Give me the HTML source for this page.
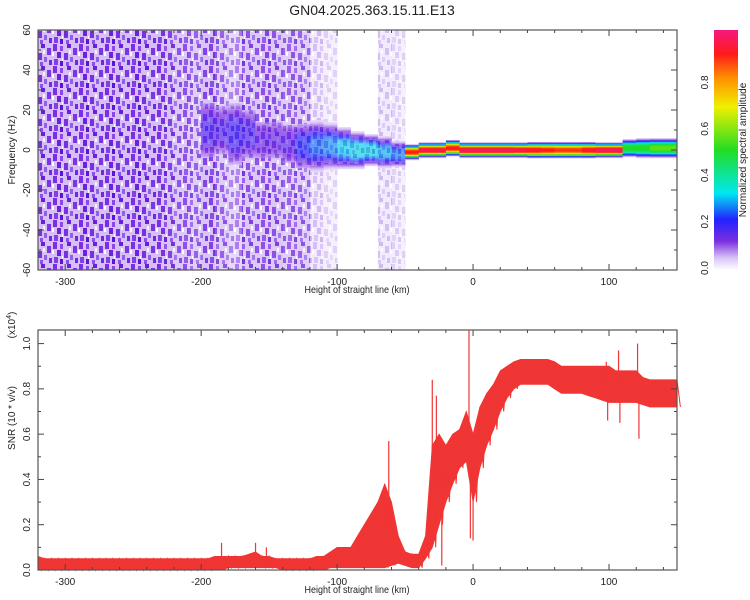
<!DOCTYPE html>
<html><head><meta charset="utf-8">
<style>
body{margin:0;background:#fff;}
svg{display:block;font-family:"Liberation Sans",sans-serif;}
</style></head>
<body>
<svg id="chart" width="750" height="600" viewBox="0 0 750 600">
<defs>
<pattern id="noisePat" width="26" height="22" patternUnits="userSpaceOnUse">
<rect width="26" height="22" fill="#d6bff5"/>
<rect x="1" y="0" width="4" height="7" fill="#7a30e2"/>
<rect x="8" y="2" width="3" height="5" fill="#8a48e8"/>
<rect x="15" y="0" width="4" height="4" fill="#6a1fdc"/>
<rect x="21" y="4" width="4" height="7" fill="#7a36e4"/>
<rect x="5" y="8" width="4" height="6" fill="#6c22dc"/>
<rect x="12" y="9" width="4" height="7" fill="#7a30e2"/>
<rect x="18" y="13" width="3" height="5" fill="#9060ec"/>
<rect x="2" y="15" width="4" height="6" fill="#8040e6"/>
<rect x="8" y="17" width="3" height="5" fill="#5e14d6"/>
<rect x="23" y="16" width="3" height="5" fill="#7028e0"/>
<rect x="14" y="18" width="3" height="4" fill="#8a50ea"/>
<rect x="0" y="8" width="2" height="4" fill="#ffffff"/>
<rect x="17" y="6" width="2" height="4" fill="#f6f0fd"/>
<rect x="10" y="14" width="1" height="3" fill="#ffffff"/>
</pattern>
<linearGradient id="cbar" x1="0" y1="1" x2="0" y2="0">
<stop offset="0" stop-color="#ffffff"/>
<stop offset="0.05" stop-color="#d9c4f6"/>
<stop offset="0.12" stop-color="#7b2fe0"/>
<stop offset="0.21" stop-color="#2222ff"/>
<stop offset="0.32" stop-color="#00e8f0"/>
<stop offset="0.5" stop-color="#22dd22"/>
<stop offset="0.68" stop-color="#f0f000"/>
<stop offset="0.8" stop-color="#ff9000"/>
<stop offset="0.9" stop-color="#ff1a1a"/>
<stop offset="1" stop-color="#f5197f"/>
</linearGradient>
</defs>
<text x="372" y="15" font-size="14" text-anchor="middle" fill="#222">GN04.2025.363.15.11.E13</text>
<g id="topGroup"></g>
<g id="bottomGroup"></g>
<g id="cbGroup"></g>
</svg>
<script>
// ---------- data ----------
const binStart = [-320,-310,-300,-290,-280,-270,-260,-250,-240,-230,-220,-210,-200,-190,-180,-170,-160,-150,-140,-130,-120,-110,-100,-90,-80,-70,-60,-50,-40,-30,-20,-10,0,10,20,30,40,50,60,70,80,90,100,110,120,130,140];
const noiseLevel = [0.13,0.13,0.13,0.13,0.13,0.13,0.13,0.13,0.13,0.12,0.11,0.1,0.12,0.1,0.08,0.11,0.11,0.11,0.1,0.1,0.04,0.03,0,0,0,0.04,0.03,0,0,0,0,0,0,0,0,0,0,0,0,0,0,0,0,0,0,0,0];
const bandPeak = [0,0,0,0,0,0,0,0,0,0,0,0,0.17,0.16,0.19,0.17,0.14,0.14,0.15,0.22,0.26,0.28,0.32,0.34,0.34,0.3,0.27,0.9,0.95,0.95,0.9,0.97,0.97,0.97,0.97,0.95,0.92,0.9,0.88,0.88,0.92,0.97,0.97,0.5,0.5,0.55,0.55];
const bandCenter = [0,0,0,0,0,0,0,0,0,0,0,0,10,10,8,8,5,5,3,2,2,2,1,0,0,-1,-2,-1,0,0,1,0,0,0,0,0,0,0,0,0,0,0,0,1,1,1,1];
const bandWidth = [5,5,5,5,5,5,5,5,5,5,5,5,14,12,14,12,10,10,10,10,10,9,8,7,6,6,5,2.6,2.6,2.6,2.8,2.6,2.6,2.6,2.6,2.6,2.8,2.8,2.8,2.8,2.8,2.6,2.6,3.2,3.5,3.5,3.5];
const freqTicks = [-60,-40,-20,0,20,40,60];
const heightTicks = [-300,-200,-100,0,100];
const snrX = [-320,-315,-310,-305,-300,-295,-290,-285,-280,-275,-270,-265,-260,-255,-250,-245,-240,-235,-230,-225,-220,-215,-210,-205,-200,-195,-190,-185,-180,-175,-170,-165,-160,-155,-150,-145,-140,-135,-130,-125,-120,-115,-110,-105,-100,-95,-90,-85,-80,-75,-70,-65,-60,-55,-50,-45,-40,-35,-30,-25,-20,-15,-10,-5,0,5,10,15,20,25,30,35,40,45,50,55,60,65,70,75,80,85,90,95,100,105,110,115,120,125,130,135,140,145,150];
const snrUpper = [0.06,0.05,0.05,0.05,0.05,0.05,0.05,0.05,0.05,0.05,0.05,0.05,0.05,0.05,0.05,0.05,0.05,0.05,0.05,0.05,0.05,0.05,0.05,0.05,0.05,0.05,0.06,0.06,0.06,0.06,0.06,0.07,0.08,0.06,0.06,0.05,0.05,0.05,0.05,0.05,0.05,0.06,0.06,0.08,0.1,0.1,0.1,0.15,0.2,0.25,0.3,0.38,0.3,0.15,0.08,0.07,0.07,0.15,0.55,0.6,0.55,0.6,0.62,0.7,0.6,0.72,0.78,0.82,0.88,0.9,0.92,0.93,0.93,0.93,0.93,0.93,0.92,0.9,0.9,0.9,0.9,0.9,0.9,0.9,0.9,0.88,0.88,0.88,0.88,0.85,0.84,0.84,0.84,0.84,0.84];
const snrLower = [0.0,0.0,0.0,0.0,0.0,0.0,0.0,0.0,0.0,0.0,0.0,0.0,0.0,0.0,0.0,0.0,0.0,0.0,0.0,0.0,0.0,0.0,0.0,0.0,0.0,0.0,0.0,0.0,0.01,0.01,0.01,0.01,0.01,0.01,0.01,0.01,0.0,0.0,0.0,0.0,0.0,0.0,0.0,0.01,0.01,0.01,0.01,0.01,0.01,0.01,0.01,0.01,0.02,0.03,0.02,0.01,0.01,0.05,0.1,0.2,0.3,0.38,0.45,0.48,0.3,0.45,0.55,0.62,0.7,0.76,0.8,0.82,0.82,0.82,0.82,0.82,0.8,0.78,0.78,0.78,0.78,0.77,0.76,0.75,0.74,0.74,0.74,0.74,0.74,0.73,0.72,0.72,0.72,0.72,0.72];
const spikeX = [-185,-160,-152,-62,-30,-27,-23,-3,-2,0,98,99,107,108,121,122];
const spikeY = [0.12,0.12,0.1,0.57,0.84,0.77,0.02,1.06,0.14,0.13,0.92,0.66,0.97,0.65,1.0,0.58];
const snrTicks = [0.0,0.2,0.4,0.6,0.8,1.0];
const cbTicks = [0.0,0.2,0.4,0.6,0.8];

// ---------- helpers ----------
const NS='http://www.w3.org/2000/svg';
function mk(tag, attrs, parent){const e=document.createElementNS(NS,tag);for(const k in attrs)e.setAttribute(k,attrs[k]);parent.appendChild(e);return e;}
const X0=38,X1=677;
const xs = h => X0 + (h+320)/470*(X1-X0);
const yTop = f => 30 + (60-f)/120*240;
const yBot = v => 570 - v/1.06*240;
const cmapStops=[[0,[255,255,255]],[0.05,[217,196,246]],[0.12,[123,47,224]],[0.21,[34,34,255]],[0.32,[0,232,240]],[0.5,[34,221,34]],[0.68,[240,240,0]],[0.8,[255,144,0]],[0.9,[255,26,26]],[1,[245,25,127]]];
function cmap(v){v=Math.max(0,Math.min(1,v));for(let i=1;i<cmapStops.length;i++){if(v<=cmapStops[i][0]){const a=cmapStops[i-1],b=cmapStops[i];const t=(v-a[0])/(b[0]-a[0]);const c=a[1].map((x,j)=>Math.round(x+(b[1][j]-x)*t));return `rgb(${c[0]},${c[1]},${c[2]})`;}}return 'rgb(245,25,127)';}

function drawFrame(g, y0, y1, yTicksMajor, yMinorStep, yScale, yLo, yHi, name){
  for(let h=-320;h<=150;h+=20){
    const major = h%100===0;
    const len = major?6:3;
    const x=xs(h);
    const t1=mk('line',{x1:x,x2:x,y1:y1,y2:y1-len,stroke:'#444','stroke-width':1},g);
    
    
    const t2=mk('line',{x1:x,x2:x,y1:y0,y2:y0+len,stroke:'#444','stroke-width':1},g);
    
    
  }
  for(let v=yLo; v<=yHi+1e-9; v+=yMinorStep){
    const y=yScale(v);
    const major = yTicksMajor.some(t=>Math.abs(t-v)<1e-6);
    const len = major?6:3;
    const a=mk('line',{x1:X0,x2:X0+len,y1:y,y2:y,stroke:'#444','stroke-width':1},g);
    
    
    const b=mk('line',{x1:X1,x2:X1-len,y1:y,y2:y,stroke:'#444','stroke-width':1},g);
    
    
  }
  const r=mk('rect',{x:X0,y:y0,width:X1-X0,height:y1-y0,fill:'none',stroke:'#555','stroke-width':1.2},g);
  
  
  heightTicks.forEach(h=>{
    const t=mk('text',{x:xs(h),y:y1+15,'font-size':10,'text-anchor':'middle',fill:'#222'},g);
    t.textContent=String(h);
    
    
  });
  const xl=mk('text',{x:357,y:y1+23,'font-size':10,'text-anchor':'middle',fill:'#222',transform:`translate(357 ${y1+23}) scale(0.9 1) translate(-357 ${-(y1+23)})`},g);
  xl.textContent='Height of straight line (km)';
  
  
}

// ---------- top spectrogram ----------
const topG=document.getElementById('topGroup');
const hm=mk('g',{},topG);


const rowStep=0.5;
binStart.forEach((h,i)=>{
  const x=xs(h), w=xs(h+10)-x;
  if(noiseLevel[i]>0){
    const n=mk('rect',{x:x,y:30,width:w+0.3,height:240,fill:'url(#noisePat)',opacity:Math.min(1,noiseLevel[i]/0.13)},hm);
    
    
  }
  if(bandPeak[i]>0){
    const broad = bandPeak[i]<0.5;
    for(let f=-60; f<60; f+=rowStep){
      const d=(f+rowStep/2-bandCenter[i])/bandWidth[i];
      const v=bandPeak[i]*Math.exp(-Math.pow(Math.abs(d),3));
      if(v<0.03 || v<noiseLevel[i]*0.6) continue;
      const c=mk('rect',{x:x,y:yTop(f+rowStep),width:w+0.3,height:yTop(f)-yTop(f+rowStep)+0.2,fill:cmap(v),opacity:broad?0.85:1},hm);
      
      
    }
    if(broad){
      const top2=yTop(bandCenter[i]+bandWidth[i]), bot2=yTop(bandCenter[i]-bandWidth[i]);
      const o=mk('rect',{x:x,y:top2,width:w+0.3,height:bot2-top2,fill:'url(#noisePat)',opacity:0.3},hm);
      
      
    }
  }
});
drawFrame(topG,30,270,freqTicks,10,yTop,-60,60,'spectrogram');
freqTicks.forEach(f=>{
  const y=yTop(f);
  const t=mk('text',{x:0,y:0,'font-size':10,'text-anchor':'middle',fill:'#222',transform:`translate(30 ${y}) rotate(-90)`},topG);
  t.textContent=String(f);
  
  
});
const yl=mk('text',{x:0,y:0,'font-size':10,'text-anchor':'middle',fill:'#222',transform:'translate(15 150) rotate(-90)'},topG);
yl.textContent='Frequency (Hz)';



// ---------- colorbar ----------
const cbG=document.getElementById('cbGroup');
const cbr=mk('rect',{x:714,y:30,width:24,height:240,fill:'url(#cbar)'},cbG);


cbTicks.forEach(v=>{
  const y=268 - v/1.0*232;
  const t=mk('text',{x:0,y:0,'font-size':10,'text-anchor':'middle',fill:'#222',transform:`translate(708 ${y}) rotate(-90)`},cbG);
  t.textContent=v.toFixed(1);
  
  
});
const cbl=mk('text',{x:0,y:0,'font-size':10,'text-anchor':'middle',fill:'#222',transform:'translate(746 150) rotate(-90)'},cbG);
cbl.textContent='Normalized spectral amplitude';



// ---------- bottom SNR ----------
const botG=document.getElementById('bottomGroup');
const ser=mk('g',{},botG);


let pts=snrX.map((h,i)=>`${xs(h).toFixed(1)},${yBot(snrUpper[i]).toFixed(1)}`);
for(let i=snrX.length-1;i>=0;i--) pts.push(`${xs(snrX[i]).toFixed(1)},${yBot(snrLower[i]).toFixed(1)}`);
const poly=mk('polygon',{points:pts.join(' '),fill:'#f03535',stroke:'#f03535','stroke-width':0.8},ser);


let zz=[];
snrX.forEach((h,i)=>{zz.push(`${xs(h).toFixed(1)},${yBot(snrUpper[i]).toFixed(1)}`);zz.push(`${(xs(h)+3.4).toFixed(1)},${yBot(snrLower[i]).toFixed(1)}`);});
const zl=mk('polyline',{points:zz.join(' '),fill:'none',stroke:'#f03535','stroke-width':1},ser);


function envMid(h){for(let i=1;i<snrX.length;i++){if(h<=snrX[i]){const t=(h-snrX[i-1])/(snrX[i]-snrX[i-1]);const m0=(snrUpper[i-1]+snrLower[i-1])/2,m1=(snrUpper[i]+snrLower[i])/2;return m0+(m1-m0)*t;}}return 0;}
spikeX.forEach((h,i)=>{
  const s=mk('line',{x1:xs(h),x2:xs(h),y1:yBot(spikeY[i]),y2:yBot(envMid(h)),stroke:'#f03535','stroke-width':1.2},ser);
  
  
});
drawFrame(botG,330,570,snrTicks,0.1,yBot,0,1.0,'snr');
snrTicks.forEach(v=>{
  const t=mk('text',{x:0,y:0,'font-size':10,'text-anchor':'middle',fill:'#222',transform:`translate(30 ${yBot(v)}) rotate(-90)`},botG);
  t.textContent=v.toFixed(1);
  
  
});
const yl2=mk('text',{x:0,y:0,'font-size':10,'text-anchor':'middle',fill:'#222',transform:'translate(15 418) rotate(-90)'},botG);
yl2.textContent='SNR (10 * v/v)';


const sc=mk('text',{x:0,y:0,'font-size':10,'text-anchor':'middle',fill:'#222',transform:'translate(15 325) rotate(-90)'},botG);
sc.innerHTML='(x10<tspan dy="-4" font-size="7">4</tspan><tspan dy="4">)</tspan>';


</script>
</body></html>
